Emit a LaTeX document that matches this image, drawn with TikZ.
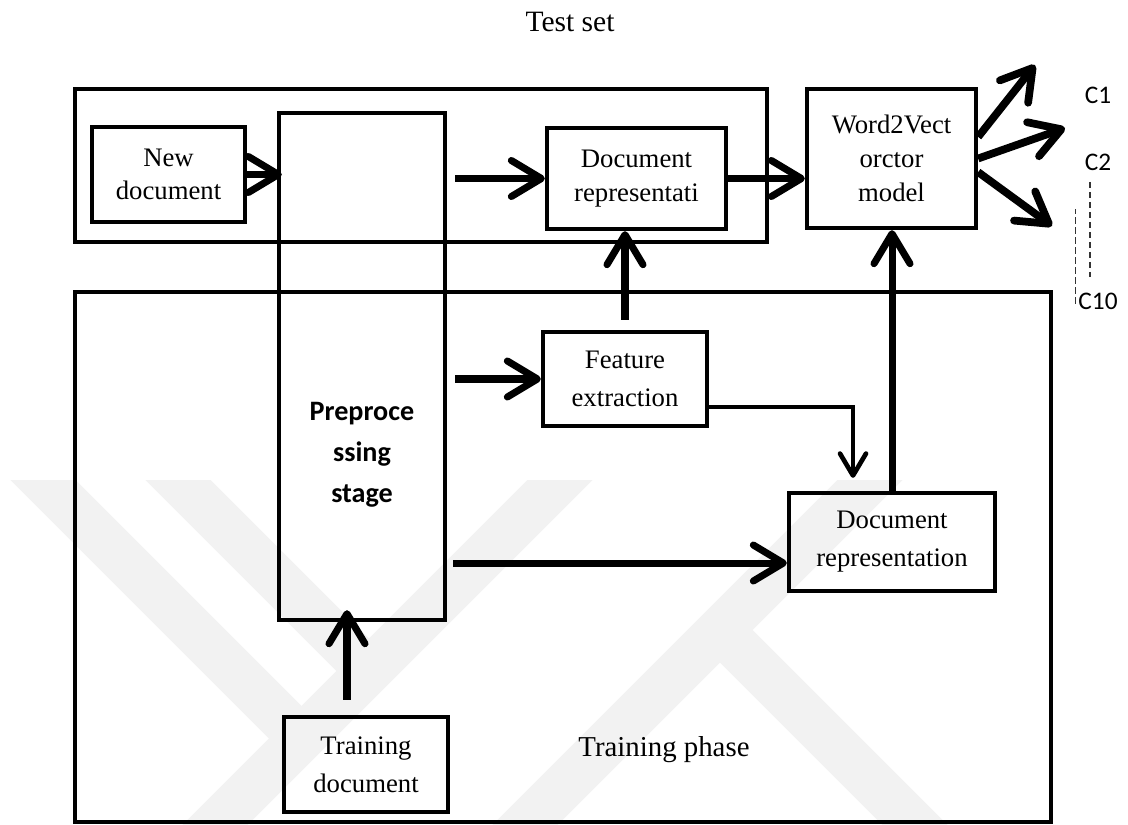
\documentclass[tikz,border=0pt]{standalone}
\usepackage{fontspec}
\setmainfont{Liberation Serif}
\newfontfamily\calibrifont{Carlito}
\usetikzlibrary{positioning}
\usetikzlibrary{arrows.meta}
\tikzset{block/.style={draw, rectangle, line width=3pt, align=center, inner sep=0pt, font=\fontsize{19}{24}\selectfont},
  loose block/.style={block, font=\fontsize{19}{27}\selectfont},
  phase box/.style={draw, rectangle, line width=2.8pt, inner sep=0pt},
  flow/.style={-{Straight Barb[length=7.5mm,width=9mm,round]}, line width=5pt},
  thin flow/.style={-{Straight Barb[length=5.5mm,width=6.5mm,round]}, line width=3.3pt},
  out flow/.style={-{Straight Barb[length=7.5mm,width=9mm,round]}, line width=5.5pt},
  class label/.style={font=\calibrifont\fontsize{18}{20}\selectfont, inner sep=0pt},
  gap line/.style={dash pattern=on 1.6mm off 0.9mm, line width=0.8pt, black!80},
  watermark/.style={line width=1.15cm, black!5},}

\begin{document}
\begin{tikzpicture}[x=0.025cm, y=-0.025cm]
	\useasboundingbox (0,0) rectangle (1128,824);

	% faint logo behind the training phase
	\begin{scope}
		\clip (0,480) rectangle (1128,824);
		\draw[watermark] (13,450) -- (301,738);
		\draw[watermark] (148,450) -- (369,671);
		\draw[watermark] (590,450) -- (180,860);
		\draw[watermark] (900,450) -- (490,860);
		\draw[watermark] (720,630) -- (950,860);
	\end{scope}

	% the two phases
	\node[phase box, minimum width=17.3cm, minimum height=3.825cm] (testbox) at (421,165.5) {};
	\node[phase box, minimum width=24.4cm, minimum height=13.25cm] (trainbox) at (563,557) {};
	\node[font=\fontsize{21}{24}\selectfont] (testlabel) at (570,22) {Test set};
	\node[font=\fontsize{20.5}{24}\selectfont] (trainlabel) at (664,750) {Training phase};

	% blocks
	\node[block, minimum width=3.825cm, minimum height=2.375cm] (newdoc) at (168.5,174.5) {New\\document};
	\node[block, minimum width=4.15cm, minimum height=12.675cm] (pre) at (362,366.5) {};
	\node[font=\calibrifont\bfseries\fontsize{20}{29}\selectfont, align=center] (pretext) at (362,455) {Preproce\\ssing\\stage};
	\node[block, minimum width=4.475cm, minimum height=2.525cm] (reptest) at (636.5,178.5) {Document\\representati};
	\node[block, minimum width=4.225cm, minimum height=3.475cm] (wvec) at (891.5,158.5) {Word2Vect\\orctor\\model};
	\node[loose block, minimum width=4.1cm, minimum height=2.35cm] (feat) at (625,379) {Feature\\extraction};
	\node[loose block, minimum width=5.15cm, minimum height=2.45cm] (reptrain) at (892,542) {Document\\representation};
	\node[loose block, minimum width=4.1cm, minimum height=2.375cm] (train) at (366,764.5) {Training\\document};

	% classes
	\node[class label] (c1) at (1098,95) {C1};
	\node[class label, below=1.25cm of c1] (c2) {C2};
	\node[class label] (c10) at (1098,301) {C10};
	\coordinate (o1) at (1035,65);
	\coordinate (o2) at (1065,128);
	\coordinate (o3) at (1052,226);

	\draw[flow] (newdoc.east) -- ([xshift=0.125cm]pre.west |- newdoc.east);
	\draw[flow] ([xshift=0.2cm]pre.east |- reptest.west) -- (reptest.west);
	\draw[flow] (reptest.east) -- (reptest.east -| wvec.west);
	\draw[flow] ([yshift=0.25cm]feat.north) -- (feat.north |- reptest.south);
	\draw[flow] ([xshift=0.2cm]pre.east |- feat.west) -- (feat.west);
	\draw[thin flow] ([yshift=-0.7cm]feat.east) -| ([xshift=-0.975cm,yshift=0.325cm]reptrain.north);
	\draw[flow] ([xshift=0.15cm,yshift=-0.525cm]pre.east |- reptrain.west) -- ([yshift=-0.525cm]reptrain.west);
	\draw[flow] (reptrain.north) -- (reptrain.north |- wvec.south);
	\draw[flow] ([xshift=-0.475cm,yshift=0.375cm]train.north) -- ([xshift=-0.475cm,yshift=0.3cm]train.north |- pre.south);

	\draw[out flow] ([yshift=0.54cm]wvec.east) -- (o1);
	\draw[out flow] (wvec.east) -- (o2);
	\draw[out flow] ([yshift=-0.34cm]wvec.east) -- (o3);
	\draw[gap line] ([xshift=-0.2cm,yshift=-0.275cm]c2.south) -- ([xshift=-0.2cm,yshift=0.375cm]c10.north);
	\draw[gap line] ([xshift=-0.075cm,yshift=0.15cm]c10.south west) -- ([xshift=-0.075cm,yshift=2.075cm]c10.north west);
\end{tikzpicture}
\end{document}
